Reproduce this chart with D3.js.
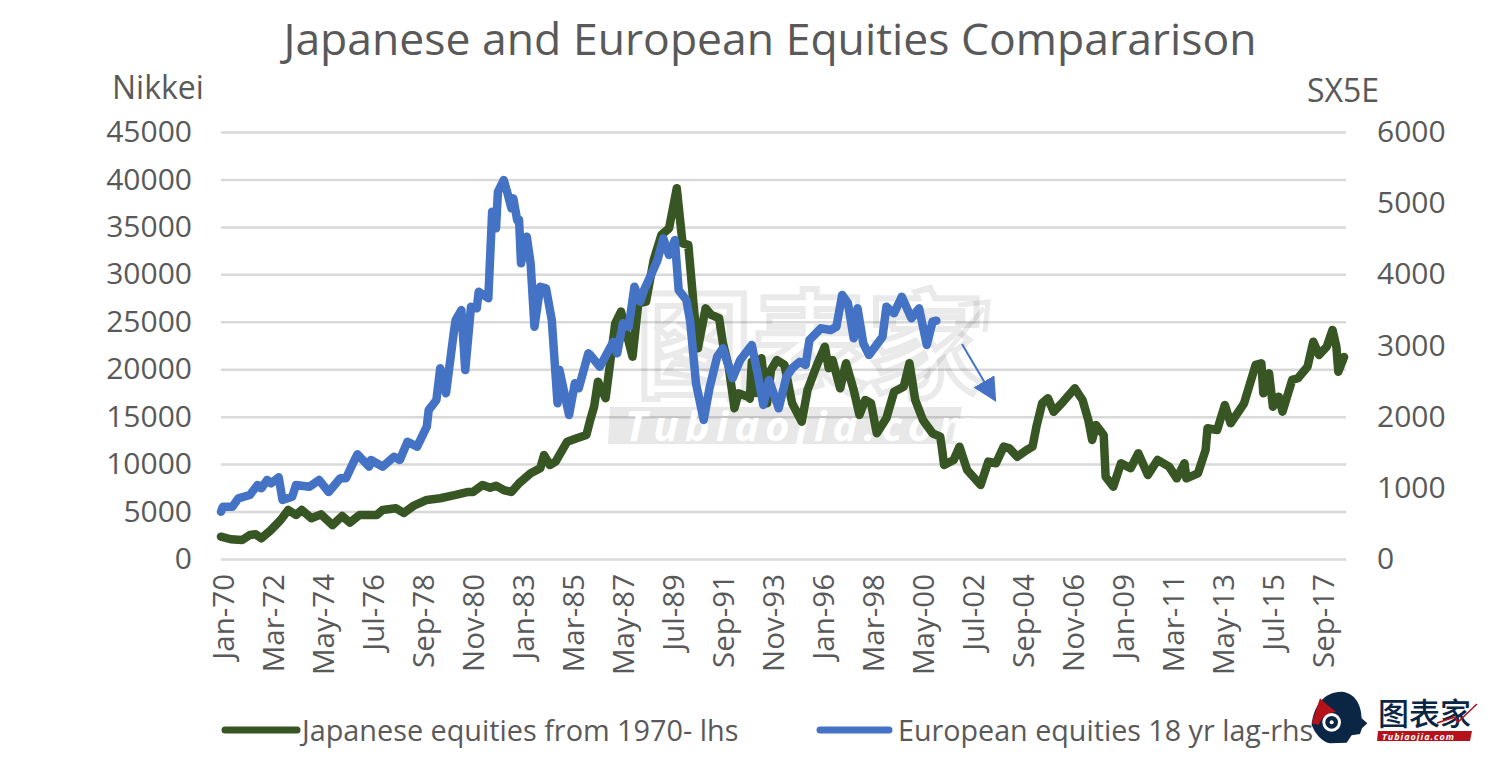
<!DOCTYPE html>
<html>
<head>
<meta charset="utf-8">
<script src="https://cdn.jsdelivr.net/npm/d3@7"></script>
<style>
  html, body { margin: 0; padding: 0; background: #fff; }
  svg { display: block; }
  text { font-family: "Open Sans", sans-serif; fill: #595959; }
</style>
</head>
<body>
<svg id="chart" width="1500" height="779"></svg>
<script>
// months counted from Jan-70
const nikkeiMonths = [
  0,5,11,15,18,21,26,31,35,39,42,47,52,58,63,67,72,81,84,91,
  95,100,107,114,122,128,131,136,140,143,147,151,155,161,166,168,171,174,180,185,
  190,192,194,196,200,205,208,214,217,221,225,229,233,237,240,243,246,248,252,255,
  259,261,264,267,269,274,275,276,278,281,284,286,289,293,297,302,305,310,314,316,
  318,322,325,329,332,335,338,341,346,350,355,358,361,365,370,374,375,376,381,384,
  388,395,399,403,407,410,414,419,422,424,427,430,433,438,444,448,451,453,455,459,
  460,464,468,473,477,482,487,493,497,501,502,508,512,513,518,522,525,532,538,541,
  542,545,547,550,552,557,560,565,568,571,575,578,580,581,584
];
const nikkeiValues = [
  2350,2080,2000,2530,2600,2180,3060,4110,5170,4640,5170,4290,4710,3580,4530,3830,4640,4640,5170,5340,
  4850,5590,6220,6400,6750,7060,7060,7800,7520,7730,7270,7060,7980,9030,9560,10960,9900,10260,12360,12720,
  13070,14650,16040,18690,16940,24840,26070,21320,26950,27120,31510,34150,34860,39070,33270,33100,26240,22210,26420,25720,
  25370,22730,20270,15880,17460,17110,16900,20800,17500,21150,16410,19920,20970,20450,16410,14470,17810,20500,22380,20100,
  20970,17990,20630,17810,15180,16760,16410,13250,14830,17630,18160,20630,16760,14650,13250,12890,11490,9910,10440,11840,
  9380,7800,10260,10090,11840,11670,10780,11490,11840,13930,16410,16940,15520,16590,17990,16760,14650,12540,14120,13070,
  8680,7620,10090,9560,11140,8850,10440,9730,8500,10090,8500,9030,11490,13780,13600,16230,14300,16410,20450,20620,
  17460,19570,16050,17110,15530,18870,19050,20270,22900,21500,22380,24140,22380,19740,21290
];
const sx5eMonths = [
  0,1,6,9,15,19,21,24,26,30,32,37,39,46,51,56,62,65,69,71,
  77,78,84,90,93,97,102,107,108,112,114,117,121,122,125,127,130,133,134,139,
  141,143,144,147,149,151,152,154,155,156,159,161,163,166,169,172,175,176,181,184,
  186,191,192,197,204,206,209,212,215,218,220,224,227,230,233,236,238,242,244,247,
  251,254,258,261,266,270,276,279,282,285,290,294,297,301,304,306,312,317,320,323,
  326,329,331,334,337,344,346,350,354,359,363,367,370,372
];
const sx5eValues = [
  665,735,735,853,899,1040,993,1110,1064,1148,829,875,1040,1016,1110,941,1134,1134,1367,1471,
  1297,1391,1297,1437,1391,1648,1578,1859,2093,2234,2680,2328,3171,3358,3498,2655,3545,3522,3755,3663,
  4880,4647,5158,5325,5138,4928,5068,4763,4763,4155,4529,4155,3264,3826,3803,3358,2188,2655,2023,2469,
  2398,2890,2866,2702,3053,2890,3312,3260,3826,3615,3779,4014,4201,4506,4271,4482,3779,3639,3334,2469,
  1953,2398,2842,2960,2539,2796,3007,2609,2164,2515,2117,2561,2679,2772,2726,3077,3241,3217,3264,3709,
  3593,3101,3522,3031,2866,3123,3545,3452,3685,3382,3522,3007,3334,3348
];

const leftTicks = [0,5000,10000,15000,20000,25000,30000,35000,40000,45000];
const rightTicks = [0,1000,2000,3000,4000,5000,6000];
const monthTicks = d3.range(0, 585, 26);
const startDate = new Date(1970, 0, 1);
const fmtMonth = d3.timeFormat("%b-%y");

const left = 221, right = 1346, top_ = 132, bottom = 559;
const svg = d3.select("#chart");

const x = d3.scaleLinear().domain([0, 585]).range([left, right]);
const yL = d3.scaleLinear().domain([0, 45000]).range([bottom, top_]);
const yR = d3.scaleLinear().domain([0, 6000]).range([bottom, top_]);

// gridlines + left axis
const axL = svg.append("g")
    .attr("transform", `translate(${left},0)`)
    .call(d3.axisLeft(yL).tickValues(leftTicks).tickSize(-(right - left)).tickPadding(29).tickFormat(d3.format("d")));
axL.select(".domain").remove();
axL.selectAll("line").attr("stroke", "#d9d9d9").attr("stroke-width", 2.5);
axL.selectAll("text").style("font-size", "30px").style("font-family", '"Open Sans", sans-serif').attr("fill", "#595959");

const axR = svg.append("g")
    .attr("transform", `translate(${right},0)`)
    .call(d3.axisRight(yR).tickValues(rightTicks).tickSize(0).tickPadding(31).tickFormat(d3.format("d")));
axR.select(".domain").remove();
axR.selectAll("text").style("font-size", "30px").style("font-family", '"Open Sans", sans-serif').attr("fill", "#595959");

const axB = svg.append("g")
    .attr("transform", `translate(0,${bottom})`)
    .call(d3.axisBottom(x).tickValues(monthTicks).tickSize(0)
        .tickFormat(m => fmtMonth(d3.timeMonth.offset(startDate, m))));
axB.select(".domain").remove();
axB.selectAll("text")
    .style("font-size", "29.5px").style("font-family", '"Open Sans", sans-serif').attr("fill", "#595959")
    .attr("text-anchor", "end").attr("dy", null)
    .attr("transform", "translate(5,15) rotate(-90)")
    .attr("y", 0).attr("x", 0).attr("dominant-baseline", "middle");

// watermark sits over the grid, under the lines
const wm = svg.append("g");
wm.append("text").attr("x", 810).attr("y", 388).attr("text-anchor", "middle")
    .attr("font-weight", 700)
    .style("font-family", '"Noto Sans CJK SC"').style("font-size", "116px")
    .style("fill", "none").style("stroke", "#000").style("stroke-width", 6).style("opacity", 0.08)
    .text("图表家");
wm.append("path").attr("d", "M925,378L984,308M958,305L988,302L985,332").attr("fill", "none")
    .attr("stroke", "#000").attr("stroke-width", 5).attr("opacity", 0.08);
wm.append("path").attr("d", "M610,407L962,407L956,444L608,444Z").attr("fill", "#000").attr("opacity", 0.09);
wm.append("text").attr("x", 625).attr("y", 441).attr("font-weight", 700).attr("font-style", "italic")
    .style("font-size", "42px").style("fill", "#fff").style("letter-spacing", "6px")
    .text("Tubiaojia.com");

// lines
const lineL = d3.line().x(d => x(d[0])).y(d => yL(d[1]));
const lineR = d3.line().x(d => x(d[0])).y(d => yR(d[1]));

svg.append("path")
    .datum(d3.zip(nikkeiMonths, nikkeiValues))
    .attr("d", lineL).attr("fill", "none")
    .attr("stroke", "#375623").attr("stroke-width", 8.5).attr("stroke-linejoin", "round").attr("stroke-linecap", "round");

svg.append("path")
    .datum(d3.zip(sx5eMonths, sx5eValues))
    .attr("d", lineR).attr("fill", "none")
    .attr("stroke", "#4472c4").attr("stroke-width", 8.5).attr("stroke-linejoin", "round").attr("stroke-linecap", "round");

// titles
svg.append("text").attr("x", 770).attr("y", 55).attr("text-anchor", "middle")
    .style("font-size", "44.5px").text("Japanese and European Equities Compararison");
svg.append("text").attr("x", 112).attr("y", 99).style("font-size", "32px").text("Nikkei");
svg.append("text").attr("x", 1307).attr("y", 102).style("font-size", "32px").text("SX5E");

// legend
svg.append("line").attr("x1", 225).attr("x2", 297).attr("y1", 730).attr("y2", 730)
    .attr("stroke", "#375623").attr("stroke-width", 7).attr("stroke-linecap", "round");
svg.append("text").attr("x", 302).attr("y", 741).style("font-size", "28.8px").text("Japanese equities from 1970- lhs");
svg.append("line").attr("x1", 820).attr("x2", 889).attr("y1", 730).attr("y2", 730)
    .attr("stroke", "#4472c4").attr("stroke-width", 7).attr("stroke-linecap", "round");
svg.append("text").attr("x", 898).attr("y", 741).style("font-size", "28.7px").text("European equities 18 yr lag-rhs");

// arrow annotation
svg.append("defs").append("marker").attr("id", "head")
    .attr("viewBox", "0 0 10 10").attr("refX", 9).attr("refY", 5)
    .attr("markerWidth", 24).attr("markerHeight", 24).attr("markerUnits", "userSpaceOnUse")
    .attr("orient", "auto")
    .append("path").attr("d", "M0,0L10,5L0,10Z").attr("fill", "#4472c4");
svg.append("line").attr("x1", 962).attr("y1", 344).attr("x2", 995).attr("y2", 400)
    .attr("stroke", "#4472c4").attr("stroke-width", 2).attr("marker-end", "url(#head)");

// logo
const logo = svg.append("g").attr("transform", "translate(1280,670) scale(0.3333)");
logo.append("path").attr("d", "M95,165C100,110 130,65 185,65C225,68 245,105 245,145L262,160L246,175L240,192L215,196L200,218L150,220C125,215 105,190 95,165Z").attr("fill", "#0b2545");
logo.append("path").attr("d", "M95,160L120,85C135,100 150,112 168,125C145,128 125,140 115,165Z").attr("fill", "#b5121b");
logo.append("circle").attr("cx", 155).attr("cy", 157).attr("r", 28).attr("fill", "#fff");
logo.append("circle").attr("cx", 155).attr("cy", 157).attr("r", 19).attr("fill", "#0b2545");
logo.append("circle").attr("cx", 155).attr("cy", 157).attr("r", 6).attr("fill", "#fff");
svg.append("text").attr("x", 1378).attr("y", 725)
    .style("font-family", '"Noto Sans CJK SC"').style("font-size", "31px").style("fill", "#0b2545").attr("font-weight", 500).text("图表家");
svg.append("path").attr("d", "M1437,723L1455,717L1458,722L1477,704").attr("fill", "none").attr("stroke", "#b5121b").attr("stroke-width", 1.5);
svg.append("path").attr("d", "M1378,731L1472,731L1470,741L1377,741Z").attr("fill", "#b5121b");
svg.append("text").attr("x", 1382).attr("y", 740).attr("font-weight", 700).attr("font-style", "italic")
    .style("font-size", "9px").style("fill", "#fff").style("letter-spacing", "1px").text("Tubiaojia.com");
</script>
</body>
</html>
